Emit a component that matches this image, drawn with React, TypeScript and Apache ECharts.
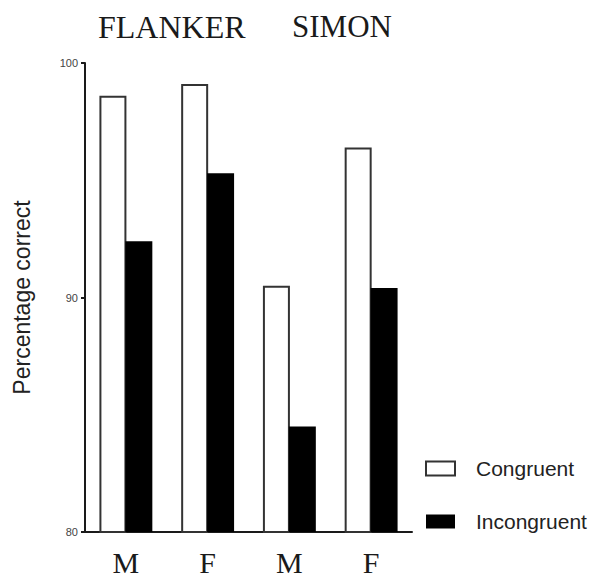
import React, { useEffect, useRef } from "react";
import * as echarts from "echarts";

const categories = ["M", "F", "M", "F"];
const congruent = [98.6, 99.1, 90.5, 96.4];
const incongruent = [92.4, 95.3, 84.5, 90.4];
const yTicks = { min: 80, max: 100, interval: 10 };
const taskTitles = ["FLANKER", "SIMON"];
const seriesNames = ["Congruent", "Incongruent"];
const yAxisName = "Percentage correct";

export default function App() {
  const ref = useRef<HTMLDivElement>(null);
  useEffect(() => {
    if (!ref.current) return;
    const chart = echarts.init(ref.current, null, { renderer: "svg" });
    const serif = "'Liberation Serif', 'Times New Roman', serif";
    const sans = "'Liberation Sans', Arial, sans-serif";
    chart.setOption({
      animation: false,
      backgroundColor: "#ffffff",
      title: [
        {
          text: taskTitles[0],
          left: 93,
          top: 6,
          textStyle: { fontFamily: serif, fontSize: 32, fontWeight: "normal", color: "#1a1a1a" },
        },
        {
          text: taskTitles[1],
          left: 287,
          top: 6,
          textStyle: { fontFamily: serif, fontSize: 31, fontWeight: "normal", color: "#1a1a1a" },
        },
      ],
      legend: {
        orient: "vertical",
        left: 420,
        top: 453,
        itemWidth: 29,
        itemHeight: 14,
        itemGap: 32,
        icon: "rect",
        textStyle: { fontFamily: sans, fontSize: 21, color: "#222", padding: [0, 0, 0, 16] },
        data: seriesNames,
      },
      grid: { left: 85, right: 178, top: 63, bottom: 47 },
      xAxis: {
        type: "category",
        data: categories,
        axisLine: { show: true, lineStyle: { color: "#1a1a1a", width: 2 } },
        axisTick: { show: false },
        axisLabel: {
          margin: 15,
          fontFamily: serif,
          fontSize: 30,
          color: "#1a1a1a",
        },
      },
      yAxis: {
        type: "value",
        min: yTicks.min,
        max: yTicks.max,
        interval: yTicks.interval,
        name: yAxisName,
        nameLocation: "middle",
        nameGap: 52,
        nameTextStyle: { fontFamily: sans, fontSize: 23, color: "#222" },
        axisLine: { show: true, lineStyle: { color: "#1a1a1a", width: 2 } },
        axisTick: { show: true, length: 4, lineStyle: { color: "#1a1a1a", width: 2 } },
        axisLabel: { margin: 7, fontFamily: sans, fontSize: 11, color: "#444444" },
        splitLine: { show: false },
      },
      series: [
        {
          name: seriesNames[0],
          type: "bar",
          data: congruent,
          barWidth: 27,
          barGap: "-4%",
          itemStyle: { color: "#ffffff", borderColor: "#333", borderWidth: 2 },
        },
        {
          name: seriesNames[1],
          type: "bar",
          data: incongruent,
          barWidth: 27,
          itemStyle: { color: "#000000" },
        },
      ],
    });
    return () => chart.dispose();
  }, []);
  return (
    <div
      ref={ref}
      style={{ position: "fixed", left: 0, top: 0, width: 590, height: 579 }}
    />
  );
}
